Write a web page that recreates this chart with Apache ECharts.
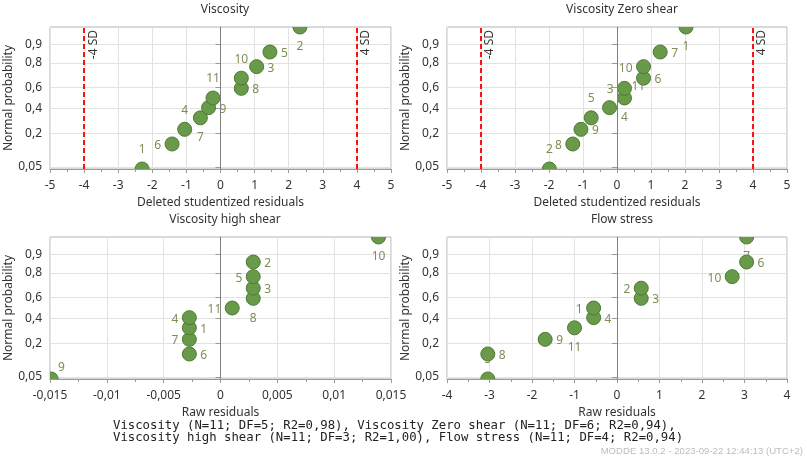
<!DOCTYPE html>
<html>
<head>
<meta charset="utf-8">
<script src="https://cdn.jsdelivr.net/npm/echarts@6/dist/echarts.min.js"></script>
<style>
html, body { margin: 0; padding: 0; background: #fff; }
#chart { width: 807px; height: 462px; }
</style>
</head>
<body>
<div id="chart"></div>
<script>
// normal probability of each rank (same for all four plots, N=11)
var normalProb = [0.045, 0.136, 0.227, 0.318, 0.409, 0.5, 0.591, 0.682, 0.773, 0.864, 0.955];
var probTicks = [0.05, 0.2, 0.4, 0.6, 0.8, 0.9];

// residuals, in rank order, with their observation numbers
var viscosityX = [-2.30, -1.42, -1.05, -0.59, -0.35, -0.22, 0.61, 0.61, 1.06, 1.45, 2.33];
var viscosityLabels = ['1', '6', '4', '7', '9', '11', '8', '10', '3', '5', '2'];
var zeroShearX = [-1.99, -1.30, -1.06, -0.76, -0.22, 0.22, 0.22, 0.78, 0.78, 1.27, 2.03];
var zeroShearLabels = ['2', '8', '9', '5', '4', '11', '3', '6', '10', '7', '1'];
var highShearX = [-0.0149, -0.00274, -0.00274, -0.00274, -0.00274, 0.00103, 0.00288, 0.00288, 0.00288, 0.00288, 0.0139];
var highShearLabels = ['9', '6', '7', '1', '4', '11', '8', '3', '5', '2', '10'];
var flowStressX = [-3.04, -3.04, -1.69, -1.00, -0.55, -0.55, 0.57, 0.57, 2.71, 3.05, 3.05];
var flowStressLabels = ['5', '8', '9', '11', '4', '1', '3', '2', '10', '6', '7'];

var panelTitles = ['Viscosity', 'Viscosity Zero shear', 'Viscosity high shear', 'Flow stress'];
var xNames = ['Deleted studentized residuals', 'Deleted studentized residuals', 'Raw residuals', 'Raw residuals'];
var sdLimits = [-4, 4];
var footerLines = [
  'Viscosity (N=11; DF=5; R2=0,98), Viscosity Zero shear (N=11; DF=6; R2=0,94),',
  'Viscosity high shear (N=11; DF=3; R2=1,00), Flow stress (N=11; DF=4; R2=0,94)'
];
var stamp = 'MODDE 13.0.2 - 2023-09-22 12:44:13 (UTC+2)';

// where each point label sits (style only)
var labelPlaces = [
  ['top', 'left', 'top', 'bottom', 'right', 'top', 'right', 'top', 'right', 'right', 'bottom'],
  ['top', 'left', 'right', 'top', 'lowright', 'upright', 'left', 'right', 'left', 'right', 'bottom'],
  ['upright', 'right', 'left', 'right', 'left', 'left', 'bottom', 'right', 'left', 'right', 'bottom'],
  ['top', 'right', 'right', 'bottom', 'right', 'left', 'right', 'left', 'left', 'right', 'bottom']
];

var FONT = 'Noto Sans';
var pointFill = '#699a49';
var pointStroke = '#4d7a33';
var labelColor = '#7d8f55';

// inverse normal cdf (Acklam)
function probit(p) {
  var a = [-39.69683028665376, 220.9460984245205, -275.9285104469687, 138.3577518672690, -30.66479806614716, 2.506628274631000];
  var b = [-54.47609879822406, 161.5858368580409, -155.6989798598866, 66.80131188771972, -13.28068155288572];
  var c = [-0.007784894002430293, -0.3223964580411365, -2.400758277161838, -2.549732539343734, 4.374664141464968, 2.938163982698783];
  var d = [0.007784695709041462, 0.3224671290700398, 2.445134137142996, 3.754408661907416];
  var q, r;
  if (p < 0.02425) {
    q = Math.sqrt(-2 * Math.log(p));
    return (((((c[0]*q+c[1])*q+c[2])*q+c[3])*q+c[4])*q+c[5]) / ((((d[0]*q+d[1])*q+d[2])*q+d[3])*q+1);
  }
  if (p > 1 - 0.02425) {
    q = Math.sqrt(-2 * Math.log(1 - p));
    return -(((((c[0]*q+c[1])*q+c[2])*q+c[3])*q+c[4])*q+c[5]) / ((((d[0]*q+d[1])*q+d[2])*q+d[3])*q+1);
  }
  q = p - 0.5; r = q * q;
  return (((((a[0]*r+a[1])*r+a[2])*r+a[3])*r+a[4])*r+a[5])*q / (((((b[0]*r+b[1])*r+b[2])*r+b[3])*r+b[4])*r+1);
}

var zRank = normalProb.map(probit);
var zTicks = probTicks.map(probit);
var zMin = zRank[0], zMax = zRank[zRank.length - 1];

function commaNum(v) {
  return String(parseFloat(Number(v).toPrecision(10))).replace('.', ',');
}

function labelOffset(place, text) {
  var half = 3.4 * text.length;
  switch (place) {
    case 'top': return [0, -19];
    case 'bottom': return [0, 20];
    case 'left': return [-(11 + half), 1.5];
    case 'right': return [11 + half, 1.5];
    case 'upright': return [11 + half - 4, -11];
    case 'lowright': return [15, 10];
  }
  return [0, 0];
}

var grids = [
  { left: 50, top: 27, width: 341, height: 142 },
  { left: 447, top: 27, width: 340, height: 142 },
  { left: 50, top: 237, width: 341, height: 142 },
  { left: 447, top: 237, width: 340, height: 142 }
];
var xRanges = [[-5, 5, 1], [-5, 5, 1], [-0.015, 0.015, 0.005], [-4, 4, 1]];
var titleX = [225, 622, 225, 622];
var titleY = [4, 4, 214, 214];

var option = {
  animation: false,
  backgroundColor: '#fff',
  textStyle: { fontFamily: FONT },
  title: panelTitles.map(function (t, i) {
    return {
      text: t, left: titleX[i], top: titleY[i], textAlign: 'center', padding: 0,
      textStyle: { fontSize: 12, fontWeight: 'normal', color: '#333', fontFamily: FONT }
    };
  }),
  grid: grids.map(function (g) {
    return { left: g.left, top: g.top, width: g.width, height: g.height, show: true,
      borderColor: '#b4b4b4', borderWidth: 1, backgroundColor: 'transparent' };
  }),
  xAxis: xRanges.map(function (r, i) {
    return {
      type: 'value', gridIndex: i, min: r[0], max: r[1], interval: r[2],
      name: xNames[i], nameLocation: 'middle', nameGap: 28,
      nameTextStyle: { fontSize: 12, color: '#333', fontFamily: FONT },
      axisLine: { show: true, onZero: false, lineStyle: { color: '#999' } },
      axisTick: { show: true, length: 4, lineStyle: { color: '#999' } },
      minorTick: { show: true, splitNumber: 2, length: 3, lineStyle: { color: '#999' } },
      axisLabel: { fontSize: 12, color: '#333', margin: 11, formatter: commaNum, showMinLabel: true, showMaxLabel: true },
      splitLine: { show: true, lineStyle: { color: '#e2e2e2', width: 1 } }
    };
  }),
  yAxis: grids.map(function (g, i) {
    return {
      type: 'value', gridIndex: i, min: zMin, max: zMax,
      name: 'Normal probability', nameLocation: 'middle', nameGap: 28,
      nameTextStyle: { fontSize: 12, color: '#333', fontFamily: FONT },
      axisLine: { show: true, lineStyle: { color: '#999' } },
      axisTick: { show: true, length: 5, customValues: zTicks, lineStyle: { color: '#999' } },
      axisLabel: {
        fontSize: 12, color: '#333', margin: 8, customValues: zTicks,
        formatter: function (v) {
          for (var k = 0; k < zTicks.length; k++) {
            if (Math.abs(zTicks[k] - v) < 1e-6) return commaNum(probTicks[k]);
          }
          return '';
        }
      },
      splitLine: { show: true, lineStyle: { color: '#e2e2e2', width: 1 } }
    };
  }),
  series: [],
  graphic: [
    {
      type: 'text', left: 113, top: 420,
      style: { text: footerLines.join('\n'), fontFamily: 'DejaVu Sans Mono', fontSize: 12.3, lineHeight: 11.8, fill: '#222' }
    },
    {
      type: 'text', right: 4, top: 446,
      style: { text: stamp, fontFamily: 'Liberation Sans', fontSize: 9.6, fill: '#bdbdbd' }
    }
  ]
};

var panelX = [viscosityX, zeroShearX, highShearX, flowStressX];
var panelLabels = [viscosityLabels, zeroShearLabels, highShearLabels, flowStressLabels];

panelX.forEach(function (xs, i) {
  var labels = panelLabels[i];
  var places = labelPlaces[i];
  var lines = [
    { xAxis: 0, lineStyle: { color: '#808080', type: 'solid', width: 1 }, label: { show: false } }
  ];
  if (i < 2) {
    sdLimits.forEach(function (s) {
      lines.push({
        xAxis: s,
        lineStyle: { color: '#ff1010', type: [5, 3], width: 2 },
        label: { show: true, formatter: s + ' SD', position: 'insideEndBottom', distance: 3,
          color: '#333', fontSize: 12, fontFamily: FONT }
      });
    });
  }
  option.series.push({
    type: 'custom',
    xAxisIndex: i,
    yAxisIndex: i,
    clip: true,
    data: xs.map(function (x, k) { return [x, zRank[k]]; }),
    encode: { x: 0, y: 1 },
    renderItem: function (params, api) {
      var p = api.coord([api.value(0), api.value(1)]);
      var txt = labels[params.dataIndex];
      return {
        type: 'circle',
        shape: { cx: p[0], cy: p[1], r: 7 },
        style: { fill: pointFill, stroke: pointStroke, lineWidth: 1 },
        textContent: {
          style: { text: txt, fill: labelColor, fontSize: 12, fontFamily: FONT }
        },
        textConfig: { position: 'inside', offset: labelOffset(places[params.dataIndex], txt) }
      };
    },
    markLine: {
      silent: true, symbol: 'none', animation: false,
      data: lines
    }
  });
});

var myChart = echarts.init(document.getElementById('chart'));
myChart.setOption(option);
</script>
</body>
</html>
